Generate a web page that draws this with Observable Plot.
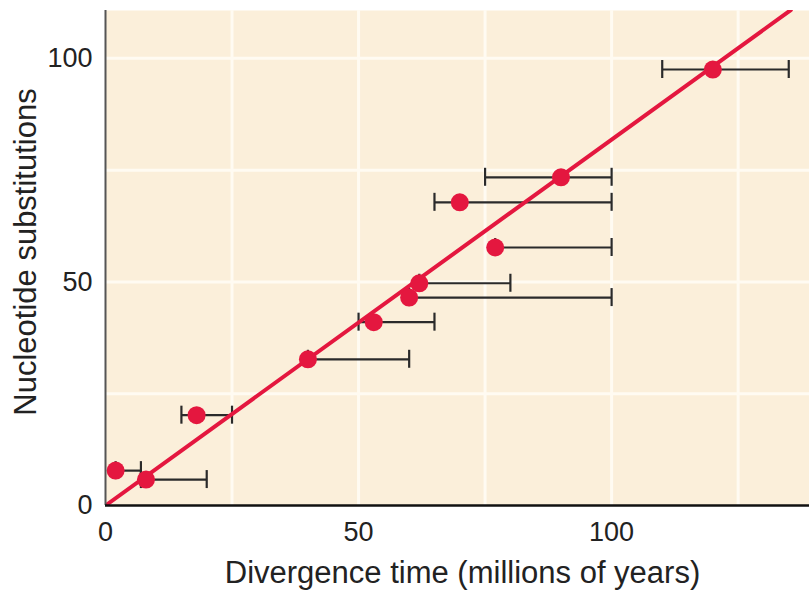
<!DOCTYPE html>
<html>
<head>
<meta charset="utf-8">
<script src="https://cdn.jsdelivr.net/npm/d3@7"></script>
<script src="https://cdn.jsdelivr.net/npm/@observablehq/plot@0.6"></script>
<style>
  html, body { margin: 0; padding: 0; background: #ffffff; }
</style>
</head>
<body>
<div id="chart"></div>
<script>
// Data
const divergenceTime = [2, 8, 18, 40, 53, 60, 62, 77, 70, 90, 120];
const substitutions  = [7.8, 5.8, 20.2, 32.7, 41, 46.5, 49.7, 57.7, 67.8, 73.4, 97.5];
const timeLow        = [2, 7, 15, 40, 50, 60, 62, 77, 65, 75, 110];
const timeHigh       = [7, 20, 25, 60, 65, 100, 80, 100, 100, 100, 135];
const fitX = [0, 135.4];
const fitY = [0, 110.8];
const xTicks = [0, 50, 100];
const yTicks = [0, 50, 100];
const xGrid = [25, 50, 75, 100, 125];
const yGrid = [25, 50, 75, 100];
const xLabel = "Divergence time (millions of years)";
const yLabel = "Nucleotide substitutions";

const points = divergenceTime.map((x, i) => ({
  x, y: substitutions[i], lo: timeLow[i], hi: timeHigh[i]
}));
const fit = fitX.map((x, i) => ({x, y: fitY[i]}));

const RED = "#e4173f";
const BAR = "#2a2a2a";

const chart = Plot.plot({
  width: 809,
  height: 592,
  marginLeft: 105,
  marginRight: 0,
  marginTop: 10,
  marginBottom: 87,
  x: {domain: [0, 139.1]},
  y: {domain: [0, 110.7]},
  style: {fontFamily: "'Liberation Sans', Arial, sans-serif", color: "#222", background: "#ffffff"},
  marks: [
    Plot.frame({fill: "#fbefda", stroke: null}),
    Plot.gridX(xGrid, {stroke: "#fffbf2", strokeOpacity: 1, strokeWidth: 3}),
    Plot.gridY(yGrid, {stroke: "#fffbf2", strokeOpacity: 1, strokeWidth: 3}),
    Plot.axisX({ticks: xTicks, tickSize: 0, tickPadding: 16, fontSize: 27, label: null}),
    Plot.axisY({ticks: yTicks, tickSize: 0, tickPadding: 13, fontSize: 27, label: null}),
    Plot.text([xLabel], {text: d => d, frameAnchor: "bottom", lineAnchor: "bottom", dy: 77, dx: 5, fontSize: 31, fill: "#222"}),
    Plot.text([yLabel], {text: d => d, frameAnchor: "left", textAnchor: "middle", lineAnchor: "top", rotate: -90, dx: -92, dy: -6, fontSize: 31, fill: "#222"}),
    Plot.link(points, {x1: "lo", x2: "hi", y1: "y", y2: "y", stroke: BAR, strokeWidth: 2.2}),
    Plot.ruleX(points, {x: "lo", y1: "y", y2: "y", insetTop: -9, insetBottom: -9, stroke: BAR, strokeWidth: 2.2}),
    Plot.ruleX(points, {x: "hi", y1: "y", y2: "y", insetTop: -9, insetBottom: -9, stroke: BAR, strokeWidth: 2.2}),
    Plot.line(fit, {x: "x", y: "y", stroke: RED, strokeWidth: 4, clip: true}),
    Plot.dot(points, {x: "x", y: "y", r: 9, fill: RED, stroke: "none"}),
    Plot.ruleX([0], {stroke: "#555", strokeWidth: 2}),
    Plot.ruleY([0], {stroke: "#111", strokeWidth: 2.5})
  ]
});
document.getElementById("chart").appendChild(chart);
</script>
</body>
</html>
